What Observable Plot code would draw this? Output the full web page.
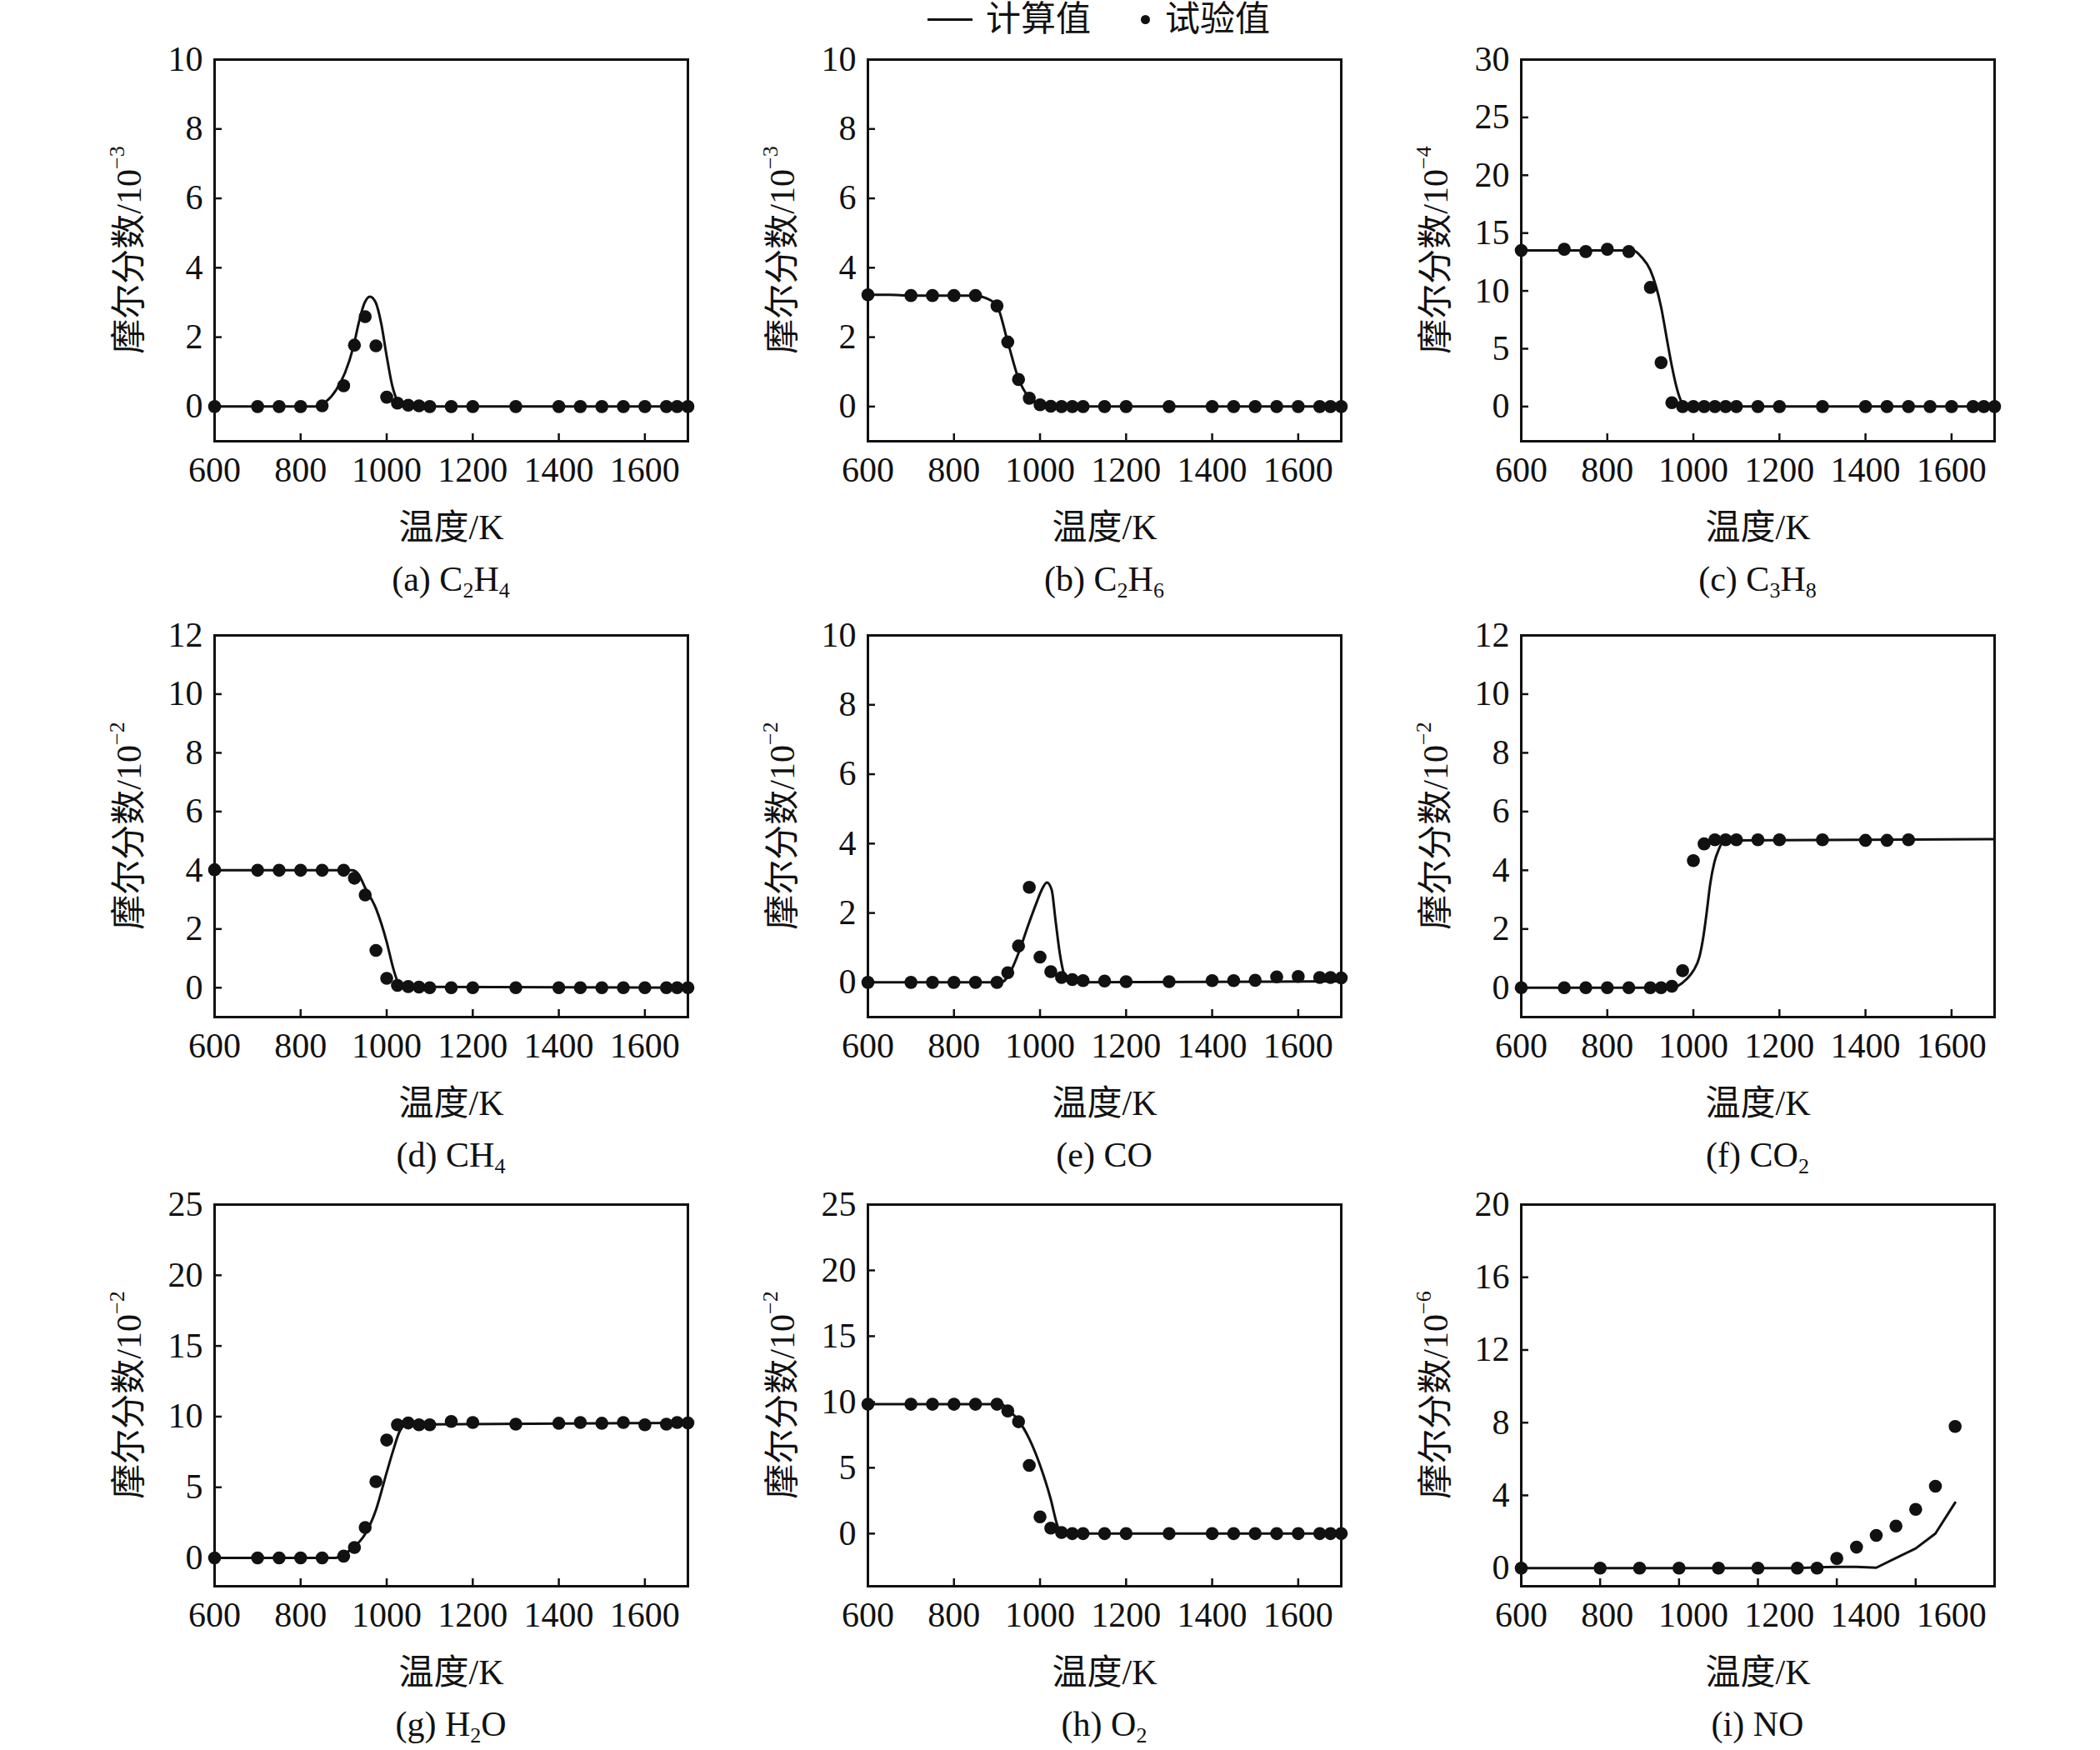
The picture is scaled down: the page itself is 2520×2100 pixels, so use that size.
<!DOCTYPE html>
<html>
<head>
<meta charset="utf-8">
<script src="https://cdn.jsdelivr.net/npm/d3@7"></script>
<script src="https://cdn.jsdelivr.net/npm/@observablehq/plot@0.6"></script>
<style>
  body { margin: 0; background: #fff; font-family: "Liberation Serif", "Noto Sans CJK SC", serif; color: #111; }
  #chart { position: relative; width: 2520px; height: 2100px; }
  .panel { position: absolute; }
  .cap { font-size: 42px; line-height: 60px; text-align: center; }
  .cap sub { font-size: 0.62em; vertical-align: -0.3em; line-height: 0; }
  #legend { position: absolute; left: 1113px; top: 0; height: 46px; font-size: 42px; line-height: 46px; display: flex; align-items: center; white-space: nowrap; }
  #legend .ln { display: inline-block; width: 54px; height: 3px; background: #111; margin-right: 16px; }
  #legend .dt { display: inline-block; width: 11px; height: 11px; border-radius: 50%; background: #111; margin: 0 18px 0 60px; }
</style>
</head>
<body>
<div id="chart">
  <div id="legend"><span class="ln"></span>计算值<span class="dt"></span>试验值</div>
</div>
<script>
// measured temperatures (K), shared by panels a–h
const tExp = [600, 700, 750, 800, 850, 900, 925, 950, 975, 1000, 1025, 1050, 1075, 1100, 1150, 1200, 1300, 1400, 1450, 1500, 1550, 1600, 1650, 1675, 1700];

// (a) C2H4, 10^-3
const c2h4Exp = [0, 0, 0, 0, 0.02, 0.6, 1.77, 2.59, 1.75, 0.27, 0.1, 0.04, 0.02, 0, 0, 0, 0, 0, 0, 0, 0, 0, 0, 0, 0];
const c2h4CalcT = [600, 840, 858, 883, 903, 922, 935, 948, 961, 974, 987, 1000, 1012, 1025, 1038, 1055, 1700];
const c2h4Calc = [0, 0, 0.13, 0.49, 0.97, 1.69, 2.41, 2.97, 3.17, 3.01, 2.41, 1.45, 0.65, 0.17, 0.03, 0, 0];

// (b) C2H6, 10^-3
const c2h6Exp = [3.22, 3.2, 3.2, 3.2, 3.2, 2.9, 1.86, 0.78, 0.24, 0.05, 0.01, 0, 0, 0, 0, 0, 0, 0, 0, 0, 0, 0, 0, 0, 0];
const c2h6CalcT = [600, 650, 700, 850, 875, 900, 925, 950, 975, 1000, 1025, 1700];
const c2h6Calc = [3.22, 3.22, 3.2, 3.2, 3.12, 2.9, 1.86, 0.8, 0.25, 0.05, 0, 0];

// (c) C3H8, 10^-4
const c3h8Exp = [13.5, 13.6, 13.4, 13.6, 13.4, 10.3, 3.8, 0.33, 0, 0, 0, 0, 0, 0, 0, 0, 0, 0, 0, 0, 0, 0, 0, 0, 0];
const c3h8CalcT = [600, 860, 880, 900, 925, 940, 950, 960, 970, 980, 990, 1700];
const c3h8Calc = [13.5, 13.5, 12.9, 11.8, 8.6, 5.5, 3.5, 1.8, 0.6, 0.1, 0, 0];

// (d) CH4, 10^-2
const ch4Exp = [4.02, 4.0, 4.0, 4.0, 4.0, 4.0, 3.73, 3.16, 1.27, 0.32, 0.08, 0.04, 0.02, 0, 0, 0, 0, 0, 0, 0, 0, 0, 0, 0, 0];
const ch4CalcT = [600, 920, 935, 950, 975, 1000, 1015, 1025, 1040, 1700];
const ch4Calc = [4.0, 4.0, 3.85, 3.4, 2.7, 1.56, 0.67, 0.23, 0.03, 0];

// (e) CO, 10^-2
const coExp = [0, 0, 0, 0, 0, 0, 0.28, 1.05, 2.74, 0.73, 0.31, 0.14, 0.08, 0.05, 0.04, 0.02, 0.02, 0.05, 0.05, 0.06, 0.16, 0.17, 0.14, 0.14, 0.13];
const coCalcT = [600, 910, 933, 952, 972, 991, 1004, 1016, 1027, 1036, 1046, 1055, 1064, 1075, 1700];
const coCalc = [0, 0, 0.35, 0.91, 1.63, 2.27, 2.67, 2.88, 2.67, 1.79, 0.83, 0.27, 0.07, 0, 0.03];

// (f) CO2, 10^-2 (no measurements above 1500 K)
const co2Exp = [0, 0, 0, 0, 0, 0, 0, 0.05, 0.58, 4.33, 4.9, 5.04, 5.04, 5.04, 5.04, 5.04, 5.04, 5.02, 5.02, 5.04, null, null, null, null, null];
const co2CalcT = [600, 950, 965, 984, 1000, 1014, 1023, 1031, 1039, 1049, 1059, 1068, 1081, 1700];
const co2Calc = [0, 0, 0.07, 0.29, 0.58, 1.05, 1.72, 2.57, 3.52, 4.28, 4.71, 4.95, 5.02, 5.06];

// (g) H2O, 10^-2
const h2oExp = [0, 0, 0, 0, 0, 0.13, 0.74, 2.16, 5.4, 8.34, 9.42, 9.55, 9.42, 9.42, 9.66, 9.58, 9.47, 9.53, 9.58, 9.53, 9.58, 9.42, 9.47, 9.58, 9.55];
const h2oCalcT = [600, 880, 900, 925, 950, 975, 1000, 1015, 1030, 1045, 1100, 1700];
const h2oCalc = [0, 0, 0.26, 0.79, 1.7, 3.4, 6.05, 7.6, 8.95, 9.42, 9.45, 9.55];

// (h) O2, 10^-2
const o2Exp = [9.83, 9.83, 9.83, 9.83, 9.83, 9.83, 9.32, 8.5, 5.18, 1.27, 0.42, 0.08, 0, 0, 0, 0, 0, 0, 0, 0, 0, 0, 0, 0, 0];
const o2CalcT = [600, 910, 925, 950, 975, 1000, 1025, 1040, 1050, 1700];
const o2Calc = [9.83, 9.83, 9.43, 8.6, 7.2, 5.2, 2.6, 0.65, 0, 0];

// (i) NO, 10^-6 — its own temperature grid
const noT = [600, 800, 900, 1000, 1100, 1200, 1300, 1350, 1400, 1450, 1500, 1550, 1600, 1650, 1700];
const noExp = [0, 0, 0, 0, 0, 0, 0, 0, 0.53, 1.15, 1.8, 2.31, 3.23, 4.5, 7.79];
const noCalc = [0, 0, 0, 0, 0, 0, 0, 0.04, 0.07, 0.07, 0.02, 0.55, 1.08, 1.9, 3.6];

const xLabels = [600, 800, 1000, 1200, 1400, 1600];
const xTickMarks = [800, 1000, 1200, 1400, 1600];

const zip = (xs, ys) => xs.map((x, i) => ({x, y: ys[i]}));

const panels = [
  {cap: "(a) C<sub>2</sub>H<sub>4</sub>", exp: 3, yDom: [-1, 10], yTicks: [0, 2, 4, 6, 8, 10], calc: zip(c2h4CalcT, c2h4Calc), meas: zip(tExp, c2h4Exp)},
  {cap: "(b) C<sub>2</sub>H<sub>6</sub>", exp: 3, yDom: [-1, 10], yTicks: [0, 2, 4, 6, 8, 10], calc: zip(c2h6CalcT, c2h6Calc), meas: zip(tExp, c2h6Exp)},
  {cap: "(c) C<sub>3</sub>H<sub>8</sub>", exp: 4, yDom: [-3, 30], yTicks: [0, 5, 10, 15, 20, 25, 30], calc: zip(c3h8CalcT, c3h8Calc), meas: zip(tExp, c3h8Exp)},
  {cap: "(d) CH<sub>4</sub>", exp: 2, yDom: [-1, 12], yTicks: [0, 2, 4, 6, 8, 10, 12], calc: zip(ch4CalcT, ch4Calc), meas: zip(tExp, ch4Exp)},
  {cap: "(e) CO", exp: 2, yDom: [-1, 10], yTicks: [0, 2, 4, 6, 8, 10], calc: zip(coCalcT, coCalc), meas: zip(tExp, coExp)},
  {cap: "(f) CO<sub>2</sub>", exp: 2, yDom: [-1, 12], yTicks: [0, 2, 4, 6, 8, 10, 12], calc: zip(co2CalcT, co2Calc), meas: zip(tExp, co2Exp)},
  {cap: "(g) H<sub>2</sub>O", exp: 2, yDom: [-2, 25], yTicks: [0, 5, 10, 15, 20, 25], calc: zip(h2oCalcT, h2oCalc), meas: zip(tExp, h2oExp)},
  {cap: "(h) O<sub>2</sub>", exp: 2, yDom: [-4, 25], yTicks: [0, 5, 10, 15, 20, 25], calc: zip(o2CalcT, o2Calc), meas: zip(tExp, o2Exp)},
  // in the source figure the NO axis runs to 1800 K but its labels sit where the other panels' labels are
  {cap: "(i) NO", exp: 6, yDom: [-1, 20], yTicks: [0, 4, 8, 12, 16, 20], calc: zip(noT, noCalc), meas: zip(noT, noExp),
   xDom: [600, 1800], labelAt: d => 600 + (d - 600) * 1200 / 1100, curve: "linear"}
];

const ML = 200, MR = 16, MT = 20, MB = 140, FW = 568, FH = 458;
const colLeft = [257, 1041, 1825];
const rowTop = [71, 762, 1445];
const chart = document.getElementById("chart");

panels.forEach((p, i) => {
  const col = i % 3, row = Math.floor(i / 3);
  const plot = Plot.plot({
    width: ML + FW + MR,
    height: MT + FH + MB,
    marginLeft: ML, marginRight: MR, marginTop: MT, marginBottom: MB,
    style: {fontFamily: '"Liberation Serif", "Noto Sans CJK SC", serif', fontSize: "42px", color: "#111", background: "transparent", overflow: "visible"},
    x: {domain: p.xDom || [600, 1700], axis: null},
    y: {domain: p.yDom, axis: null},
    marks: [
      Plot.axisX(xTickMarks, {tickSize: 9, dy: -9, strokeWidth: 2.5, tickFormat: () => "", label: null}),
      Plot.axisY(p.yTicks, {tickSize: 9, dx: 9, tickPadding: 14, strokeWidth: 2.5, fontSize: 42, label: null}),
      Plot.text(xLabels, {x: p.labelAt || (d => d), text: d => String(d), frameAnchor: "bottom", dy: 48, fontSize: 42}),
      Plot.text(["温度/K"], {text: d => d, frameAnchor: "bottom", dy: 117, fontSize: 42}),
      Plot.line(p.calc, {x: "x", y: "y", stroke: "#111", strokeWidth: 3, curve: p.curve || "monotone-x"}),
      Plot.dot(p.meas, {x: "x", y: "y", r: 7.8, fill: "#111", stroke: "none"}),
      Plot.frame({stroke: "#111", strokeWidth: 3})
    ]
  });

  // rotated y label with the power-of-ten exponent as a superscript
  const ylab = d3.select(plot).append("text")
    .attr("transform", `translate(${ML - 102},${MT + FH / 2}) rotate(-90)`)
    .attr("text-anchor", "middle")
    .attr("dominant-baseline", "central")
    .attr("font-size", 42)
    .attr("fill", "#111");
  ylab.append("tspan").text("摩尔分数/10");
  ylab.append("tspan").attr("baseline-shift", "super").attr("font-size", 26).text("−" + p.exp);

  const div = document.createElement("div");
  div.className = "panel";
  div.style.left = (colLeft[col] - ML) + "px";
  div.style.top = (rowTop[row] - MT) + "px";
  div.appendChild(plot);
  const cap = document.createElement("div");
  cap.className = "cap";
  cap.style.marginLeft = ML + "px";
  cap.style.width = FW + "px";
  cap.style.marginTop = "-4px";
  cap.innerHTML = p.cap;
  div.appendChild(cap);
  chart.appendChild(div);
});
</script>
</body>
</html>
